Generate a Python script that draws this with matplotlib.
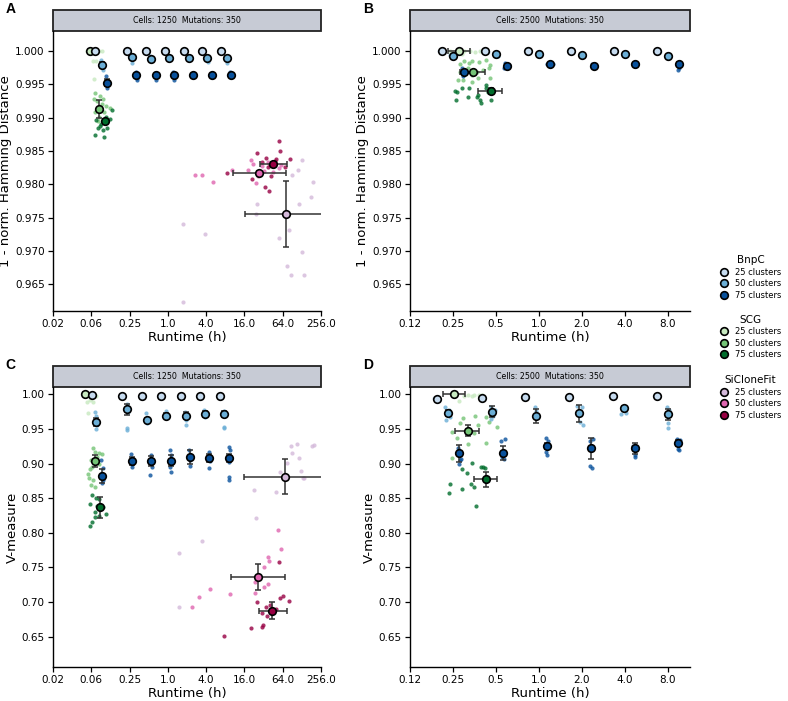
import numpy as np
import matplotlib.pyplot as plt
from matplotlib.lines import Line2D
from matplotlib.patches import Rectangle
from matplotlib.ticker import NullLocator

CLUSTERS = [25, 50, 75]
BNPC_COLORS = ['#c6dbef', '#6baed6', '#08519c']
SCG_COLORS = ['#c7e9c0', '#74c476', '#006d2c']
SCF_COLORS = ['#d4b9da', '#df65b0', '#980043']

WIDE_TICKS = [0.015625, 0.0625, 0.25, 1.0, 4.0, 16.0, 64.0, 256.0]
NARROW_TICKS = [0.125, 0.25, 0.5, 1.0, 2.0, 4.0, 8.0]
HAM_TICKS = [0.965, 0.970, 0.975, 0.980, 0.985, 0.990, 0.995, 1.000]
VM_TICKS = [0.65, 0.70, 0.75, 0.80, 0.85, 0.90, 0.95, 1.00]

# ---------------- panel A: 1250 cells, hamming ----------------
A_BNPC_RT = [
    [0.07, 0.075, 0.22, 0.23, 0.45, 0.46, 0.88, 0.9, 1.75, 1.8, 3.45, 3.55, 6.9, 7.0],
    [0.088, 0.092, 0.095, 0.09, 0.265, 0.27, 0.275, 0.53, 0.545, 1.05, 1.07, 2.1, 2.14, 4.15, 4.25, 8.3, 8.5],
    [0.105, 0.11, 0.112, 0.108, 0.31, 0.325, 0.33, 0.63, 0.645, 0.65, 1.22, 1.26, 1.27, 2.45, 2.55, 4.8, 5.0, 9.6, 9.9, 10.0],
]
A_BNPC_SC = [
    [1.0, 0.9999, 1.0, 0.9999, 1.0, 0.9999, 1.0, 0.9999, 1.0, 0.9999, 1.0, 0.9999, 1.0, 0.9999],
    [0.9987, 0.9979, 0.9972, 0.9983, 0.9991, 0.999, 0.9982, 0.9992, 0.9988, 0.9992, 0.9989, 0.9991, 0.9988, 0.9992, 0.9983, 0.9991, 0.9982],
    [0.9962, 0.995, 0.9944, 0.9956, 0.9968, 0.996, 0.9957, 0.9967, 0.9961, 0.9956, 0.9969, 0.9962, 0.9956, 0.9966, 0.9962, 0.9966, 0.9962, 0.9969, 0.9963, 0.9966],
]
A_BNPC_MRT = [
    [0.0725, 0.225, 0.456, 0.89, 1.77, 3.49, 6.96],
    [0.092, 0.27, 0.54, 1.06, 2.12, 4.2, 8.4],
    [0.109, 0.32, 0.64, 1.25, 2.5, 4.9, 9.8],
]
A_BNPC_MSC = [
    [1.0, 1.0, 1.0, 1.0, 1.0, 1.0, 1.0],
    [0.9979, 0.99915, 0.99875, 0.999, 0.9989, 0.999, 0.999],
    [0.99525, 0.9964, 0.9964, 0.9964, 0.9964, 0.9964, 0.9964],
]
A_BNPC_YERR = [
    [0, 0, 0, 0, 0, 0, 0],
    [0.0004, 0.0001, 0.0001, 0.0001, 0.0001, 0.0001, 0.0001],
    [0.0005, 0.0002, 0.0002, 0.0002, 0.0001, 0.0001, 0.0002],
]

A_SCG_RT = [
    [0.0534, 0.0617, 0.0686, 0.082, 0.0913, 0.066, 0.0738, 0.0686],
    [0.071, 0.085, 0.0945, 0.0764, 0.091, 0.105, 0.121, 0.071, 0.082, 0.098, 0.079, 0.0686],
    [0.0738, 0.088, 0.105, 0.121, 0.079, 0.0945, 0.071, 0.098, 0.109, 0.085, 0.13],
]
A_SCG_SC = [
    [1.0, 1.0, 1.0, 1.0, 1.0, 0.99843, 0.99843, 0.9958],
    [0.9937, 0.99325, 0.9928, 0.9925, 0.99205, 0.99175, 0.99145, 0.99085, 0.9901, 0.99085, 0.9895, 0.9928],
    [0.98965, 0.98905, 0.9901, 0.9898, 0.98845, 0.98815, 0.9874, 0.9871, 0.98845, 0.98875, 0.99115],
]
A_SCG_MRT = [0.059, 0.084, 0.103]
A_SCG_MSC = [1.0, 0.9913, 0.9895]
A_SCG_XLO = [0.056, 0.08, 0.098]
A_SCG_XHI = [0.062, 0.088, 0.108]
A_SCG_YERR = [0.0, 0.0013, 0.0003]

A_SCF_RT = [
    [1.71, 3.8, 1.75, 25.6, 24, 55, 116, 180, 193, 128, 90, 75, 87, 128, 140, 110, 79],
    [2.65, 3.49, 5.1, 10.2, 24, 18, 30, 38, 45, 20, 60, 55, 33, 26, 22],
    [56.6, 57, 25.6, 34.5, 50, 84, 8.4, 21.4, 33.6, 39, 42, 37, 70, 30, 48, 40],
]
A_SCF_SC = [
    [0.97405, 0.9725, 0.9624, 0.97705, 0.97555, 0.9719, 0.97705, 0.97805, 0.9804, 0.98365, 0.9814, 0.96775, 0.9664, 0.9698, 0.96635, 0.98215, 0.97315],
    [0.9814, 0.9814, 0.9804, 0.98215, 0.98025, 0.9822, 0.9827, 0.9833, 0.9818, 0.9836, 0.9829, 0.9825, 0.982, 0.9812, 0.9831],
    [0.9865, 0.98495, 0.98475, 0.9839, 0.9838, 0.98375, 0.98175, 0.98075, 0.97965, 0.979, 0.9813, 0.98265, 0.98265, 0.9834, 0.9835, 0.9829],
]
A_SCF_MRT = [72.8, 27.4, 45.2]
A_SCF_MSC = [0.97555, 0.98175, 0.9831]
A_SCF_XLO = [16.4, 10.7, 27.7]
A_SCF_XHI = [323.0, 72.0, 74.5]
A_SCF_YERR = [0.005, 0.0002, 0.0002]

# ---------------- panel B: 2500 cells, hamming ----------------
B_BNPC_RT = [
    [0.2, 0.22, 0.4, 0.44, 0.82, 0.87, 1.65, 1.75, 3.3, 3.5, 6.6, 7.1],
    [0.24, 0.255, 0.26, 0.49, 0.52, 0.98, 1.02, 1.98, 2.08, 3.9, 4.1, 7.9, 8.3],
    [0.29, 0.3, 0.31, 0.295, 0.58, 0.6, 0.62, 0.57, 1.15, 1.2, 1.25, 2.35, 2.45, 2.5, 4.6, 4.8, 4.9, 9.4, 9.6, 9.5],
]
B_BNPC_SC = [
    [1.0, 0.9999, 1.0, 0.9999, 1.0, 0.9999, 1.0, 0.9999, 1.0, 0.9999, 1.0, 0.9999],
    [0.9994, 0.9991, 0.9995, 0.9995, 0.9993, 0.9995, 0.9994, 0.9994, 0.9993, 0.9995, 0.9994, 0.9993, 0.9992],
    [0.9974, 0.9966, 0.997, 0.9962, 0.9982, 0.9976, 0.9979, 0.9975, 0.9981, 0.9979, 0.998, 0.9981, 0.9976, 0.9977, 0.998, 0.9979, 0.9981, 0.9982, 0.9974, 0.9972],
]
B_BNPC_MRT = [
    [0.21, 0.42, 0.84, 1.69, 3.39, 6.8],
    [0.25, 0.5, 1.0, 2.02, 4.0, 8.1],
    [0.3, 0.6, 1.19, 2.43, 4.75, 9.6],
]
B_BNPC_MSC = [
    [1.0, 1.0, 1.0, 1.0, 1.0, 1.0],
    [0.9993, 0.9995, 0.9995, 0.9994, 0.9995, 0.9993],
    [0.9968, 0.9978, 0.998, 0.9978, 0.998, 0.9981],
]
B_BNPC_YERR = [
    [0, 0, 0, 0, 0, 0],
    [0.0001, 0.0001, 0.0001, 0.0001, 0.0001, 0.0001],
    [0.0003, 0.0002, 0.0001, 0.0002, 0.0001, 0.0002],
]

B_SCG_RT = [
    [0.24, 0.27, 0.3, 0.33, 0.36, 0.39, 0.41, 0.29],
    [0.298, 0.324, 0.342, 0.381, 0.43, 0.454, 0.28, 0.32, 0.371, 0.408, 0.447, 0.27, 0.295, 0.342, 0.377, 0.454, 0.28, 0.342],
    [0.257, 0.268, 0.262, 0.29, 0.324, 0.367, 0.387, 0.391, 0.43, 0.44, 0.466, 0.32, 0.375, 0.424],
]
B_SCG_SC = [
    [1.0, 1.0, 0.99995, 1.0, 0.9999, 1.0, 0.9999, 0.9995],
    [0.9985, 0.99815, 0.9985, 0.9983, 0.9987, 0.9979, 0.998, 0.9974, 0.9969, 0.9971, 0.9974, 0.9957, 0.9956, 0.9954, 0.9959, 0.9959, 0.9969, 0.9964],
    [0.994, 0.9938, 0.9926, 0.9945, 0.9944, 0.9931, 0.9926, 0.9922, 0.9945, 0.9938, 0.9926, 0.9931, 0.9934, 0.9949],
]
B_SCG_MRT = [0.275, 0.347, 0.46]
B_SCG_MSC = [1.0, 0.9969, 0.994]
B_SCG_XLO = [0.232, 0.28, 0.377]
B_SCG_XHI = [0.33, 0.42, 0.554]
B_SCG_YERR = [0.0, 0.0003, 0.0004]

# ---------------- panel C: 1250 cells, v-measure ----------------
C_BNPC_RT = [
    [0.062, 0.067, 0.19, 0.197, 0.39, 0.4, 0.78, 0.795, 1.57, 1.61, 3.13, 3.2, 6.4, 6.6],
    [0.072, 0.075, 0.077, 0.073, 0.074, 0.225, 0.235, 0.23, 0.228, 0.24, 0.46, 0.48, 0.47, 0.93, 0.95, 0.94,
     1.88, 1.92, 1.9, 3.7, 3.85, 3.8, 7.5, 7.7, 7.6, 7.55],
    [0.088, 0.094, 0.09, 0.095, 0.092, 0.265, 0.275, 0.27, 0.54, 0.56, 0.53, 1.08, 1.13, 1.1, 1.12,
     2.18, 2.25, 2.2, 4.4, 4.55, 4.5, 9.1, 9.5, 9.3, 9.2, 9.0],
]
C_BNPC_SC = [
    [0.999, 0.998, 0.997, 0.996, 0.997, 0.996, 0.997, 0.996, 0.997, 0.996, 0.997, 0.996, 0.997, 0.996],
    [0.975, 0.968, 0.955, 0.95, 0.962, 0.986, 0.981, 0.9485, 0.951, 0.975, 0.9726, 0.9656, 0.9585, 0.976, 0.972, 0.966,
     0.9745, 0.963, 0.956, 0.978, 0.9745, 0.967, 0.9765, 0.974, 0.953, 0.951],
    [0.905, 0.893, 0.885, 0.876, 0.872, 0.914, 0.9, 0.895, 0.912, 0.895, 0.884, 0.92, 0.913, 0.895, 0.888,
     0.919, 0.905, 0.896, 0.916, 0.903, 0.894, 0.924, 0.92, 0.902, 0.88, 0.876],
]
C_BNPC_MRT = [
    [0.0646, 0.193, 0.395, 0.787, 1.59, 3.17, 6.49],
    [0.0744, 0.231, 0.472, 0.941, 1.9, 3.79, 7.59],
    [0.0913, 0.27, 0.55, 1.11, 2.22, 4.48, 9.26],
]
C_BNPC_MSC = [
    [0.999, 0.997, 0.997, 0.997, 0.997, 0.997, 0.997],
    [0.9604, 0.9783, 0.9629, 0.9691, 0.9687, 0.9716, 0.9716],
    [0.8825, 0.9041, 0.9041, 0.9041, 0.909, 0.9076, 0.9076],
]
C_BNPC_YERR = [
    [0, 0, 0, 0, 0, 0, 0],
    [0.006, 0.008, 0.003, 0.004, 0.005, 0.004, 0.004],
    [0.01, 0.006, 0.007, 0.008, 0.01, 0.006, 0.006],
]

C_SCG_RT = [
    [0.0575, 0.0703, 0.059, 0.054, 0.0557, 0.066, 0.062, 0.075],
    [0.066, 0.0703, 0.084, 0.092, 0.0764, 0.0624, 0.084, 0.0646, 0.06, 0.0575, 0.066, 0.061, 0.0718, 0.0553],
    [0.0646, 0.073, 0.084, 0.06, 0.0764, 0.0703, 0.0966, 0.1065, 0.084, 0.0718, 0.0646, 0.06],
]
C_SCG_SC = [
    [1.0, 0.999, 0.9918, 0.9895, 0.9726, 0.9893, 0.998, 0.9975],
    [0.922, 0.9171, 0.9157, 0.9138, 0.909, 0.9051, 0.8994, 0.8946, 0.8917, 0.8787, 0.8763, 0.869, 0.8666, 0.885],
    [0.8546, 0.8498, 0.8488, 0.8416, 0.8387, 0.8305, 0.8377, 0.8272, 0.8243, 0.8224, 0.8161, 0.8099],
]
C_SCG_MRT = [0.049, 0.0703, 0.087]
C_SCG_MSC = [1.0, 0.9037, 0.8368]
C_SCG_XLO = [0.047, 0.067, 0.083]
C_SCG_XHI = [0.051, 0.074, 0.091]
C_SCG_YERR = [0.0, 0.009, 0.015]

C_SCF_RT = [
    [87, 107, 183, 200, 89, 116, 76, 124, 134, 140, 22.7, 51, 24.6, 58.6, 1.52, 3.49, 1.52],
    [53, 61, 37, 39.6, 32, 23.5, 37, 32, 23.5, 9.5, 4.65, 3.06, 2.36],
    [55, 65, 58.6, 79, 41, 34.5, 30.5, 36.5, 31.5, 30, 20, 7.75, 24.9, 50],
]
C_SCF_SC = [
    [0.9254, 0.9283, 0.9258, 0.9268, 0.9148, 0.9076, 0.9004, 0.8897, 0.8787, 0.8787, 0.8618, 0.8594, 0.821, 0.8883, 0.7704, 0.7886, 0.6933],
    [0.8041, 0.7766, 0.7647, 0.7594, 0.7502, 0.7295, 0.7261, 0.7222, 0.7127, 0.7117, 0.7185, 0.7078, 0.6933],
    [0.7583, 0.7088, 0.7054, 0.7016, 0.6953, 0.6933, 0.6838, 0.6799, 0.6669, 0.6645, 0.6621, 0.651, 0.7006, 0.69],
]
C_SCF_MRT = [70.0, 26.1, 44.0]
C_SCF_MSC = [0.881, 0.7367, 0.6876]
C_SCF_XLO = [15.5, 9.85, 27.0]
C_SCF_XHI = [316.0, 70.0, 74.5]
C_SCF_YERR = [0.0253, 0.019, 0.012]

# ---------------- panel D: 2500 cells, v-measure ----------------
D_BNPC_RT = [
    [0.185, 0.2, 0.39, 0.405, 0.79, 0.81, 1.6, 1.64, 3.25, 3.35, 6.6, 6.9],
    [0.22, 0.235, 0.24, 0.225, 0.46, 0.49, 0.48, 0.465, 0.94, 0.95, 1.85, 2.0, 1.95, 2.05, 3.8, 4.1, 3.9,
     7.9, 8.2, 8.0, 8.1],
    [0.27, 0.285, 0.275, 0.28, 0.54, 0.58, 0.57, 0.555, 1.13, 1.17, 1.12, 1.15, 2.3, 2.4, 2.3, 2.35,
     4.55, 4.85, 4.7, 4.75, 9.3, 9.8, 9.5, 9.6],
]
D_BNPC_SC = [
    [0.994, 0.992, 0.996, 0.994, 0.997, 0.996, 0.997, 0.996, 0.998, 0.997, 0.998, 0.997],
    [0.982, 0.977, 0.967, 0.963, 0.982, 0.978, 0.969, 0.965, 0.981, 0.976, 0.983, 0.982, 0.96, 0.956, 0.971, 0.973, 0.982,
     0.982, 0.977, 0.958, 0.951],
    [0.922, 0.907, 0.9, 0.905, 0.933, 0.935, 0.906, 0.91, 0.937, 0.933, 0.916, 0.912, 0.932, 0.936, 0.897, 0.893,
     0.925, 0.923, 0.913, 0.909, 0.936, 0.934, 0.921, 0.92],
]
D_BNPC_MRT = [
    [0.192, 0.397, 0.798, 1.62, 3.3, 6.74],
    [0.23, 0.472, 0.959, 1.93, 3.94, 8.05],
    [0.275, 0.56, 1.145, 2.33, 4.7, 9.55],
]
D_BNPC_MSC = [
    [0.9932, 0.9951, 0.9966, 0.9966, 0.9975, 0.998],
    [0.9726, 0.9749, 0.9687, 0.9726, 0.9798, 0.9711],
    [0.9148, 0.9148, 0.9253, 0.922, 0.922, 0.9293],
]
D_BNPC_YERR = [
    [0, 0, 0, 0, 0, 0],
    [0.004, 0.008, 0.01, 0.012, 0.003, 0.008],
    [0.012, 0.01, 0.004, 0.015, 0.008, 0.004],
]

D_SCG_RT = [
    [0.32, 0.35, 0.38, 0.4, 0.34, 0.275, 0.3],
    [0.294, 0.355, 0.424, 0.28, 0.377, 0.512, 0.247, 0.446, 0.268, 0.318, 0.424, 0.351, 0.247, 0.459],
    [0.338, 0.406, 0.288, 0.315, 0.419, 0.333, 0.351, 0.238, 0.291, 0.234, 0.365, 0.391],
]
D_SCG_SC = [
    [0.9995, 0.999, 0.9985, 0.999, 0.997, 0.99, 0.998],
    [0.9653, 0.9687, 0.9668, 0.958, 0.9557, 0.9532, 0.946, 0.9604, 0.9365, 0.9283, 0.9302, 0.9437, 0.9076, 0.9701],
    [0.9013, 0.8946, 0.8917, 0.8868, 0.8932, 0.8705, 0.8657, 0.8705, 0.8628, 0.857, 0.8387, 0.8946],
]
D_SCG_MRT = [0.254, 0.318, 0.424]
D_SCG_MSC = [1.0, 0.9474, 0.8773]
D_SCG_XLO = [0.213, 0.26, 0.351]
D_SCG_XHI = [0.303, 0.384, 0.512]
D_SCG_YERR = [0.0, 0.008, 0.011]


def draw_points(ax, rt, sc, colors):
    for r, s, c in zip(rt, sc, colors):
        ax.scatter(r, s, s=9, color=c, alpha=0.8, linewidths=0, zorder=2)


def draw_means(ax, mrt, msc, yerr, colors, xlo=None, xhi=None):
    for i, c in enumerate(colors):
        x = np.atleast_1d(mrt[i])
        y = np.atleast_1d(msc[i])
        ye = np.atleast_1d(yerr[i])
        if xlo is not None:
            ax.errorbar(x, y, xerr=[[x[0] - xlo[i]], [xhi[i] - x[0]]], fmt='none',
                        ecolor='#333333', elinewidth=1.1, capsize=2.2, capthick=1.1, zorder=3)
        keep = ye > 0
        if keep.any():
            ax.errorbar(x[keep], y[keep], yerr=ye[keep], fmt='none',
                        ecolor='#333333', elinewidth=1.1, capsize=2.2, capthick=1.1, zorder=3)
        ax.scatter(x, y, s=30, color=c, edgecolors='black', linewidths=1.2, zorder=4)


def style_axes(ax, xticks, xlim, yticks, ylim, yfmt, ylabel, title, letter):
    ax.set_xscale('log', base=2)
    ax.set_xlim(*xlim)
    ax.set_xticks(xticks)
    ax.set_xticklabels([str(round(t, 2)) for t in xticks])
    ax.xaxis.set_minor_locator(NullLocator())
    ax.set_ylim(*ylim)
    ax.set_yticks(yticks)
    ax.set_yticklabels([yfmt % t for t in yticks])
    ax.tick_params(labelsize=7.5, length=3.5, width=0.9, pad=2.5)
    for side in ['top', 'right']:
        ax.spines[side].set_visible(False)
    for side in ['left', 'bottom']:
        ax.spines[side].set_linewidth(1.0)
    ax.set_xlabel('Runtime (h)', fontsize=9.5, labelpad=1)
    ax.set_ylabel(ylabel, fontsize=9.5, labelpad=2)
    ax.add_patch(Rectangle((0, 1), 1, 0.075, transform=ax.transAxes, clip_on=False,
                           facecolor='#c7cbd5', edgecolor='#222222', linewidth=1.3))
    ax.text(0.5, 1.0375, title, transform=ax.transAxes, ha='center', va='center', fontsize=5.7)
    bb = ax.get_position()
    ax.figure.text(bb.x0 - 0.06, bb.y1 + 0.032, letter, fontsize=10, fontweight='bold',
                   ha='left', va='center', family='Liberation Sans')


fig = plt.figure(figsize=(7.88, 7.01), dpi=100)
ax_a = fig.add_axes([0.06726, 0.55635, 0.34010, 0.39943])
ax_b = fig.add_axes([0.52030, 0.55635, 0.35533, 0.39943])
ax_c = fig.add_axes([0.06726, 0.04850, 0.34010, 0.39943])
ax_d = fig.add_axes([0.52030, 0.04850, 0.35533, 0.39943])

# points
draw_points(ax_a, A_SCF_RT, A_SCF_SC, SCF_COLORS)
draw_points(ax_a, A_SCG_RT, A_SCG_SC, SCG_COLORS)
draw_points(ax_a, A_BNPC_RT, A_BNPC_SC, BNPC_COLORS)
draw_points(ax_b, B_SCG_RT, B_SCG_SC, SCG_COLORS)
draw_points(ax_b, B_BNPC_RT, B_BNPC_SC, BNPC_COLORS)
draw_points(ax_c, C_SCF_RT, C_SCF_SC, SCF_COLORS)
draw_points(ax_c, C_SCG_RT, C_SCG_SC, SCG_COLORS)
draw_points(ax_c, C_BNPC_RT, C_BNPC_SC, BNPC_COLORS)
draw_points(ax_d, D_SCG_RT, D_SCG_SC, SCG_COLORS)
draw_points(ax_d, D_BNPC_RT, D_BNPC_SC, BNPC_COLORS)

# means with error bars
draw_means(ax_a, A_SCF_MRT, A_SCF_MSC, A_SCF_YERR, SCF_COLORS, A_SCF_XLO, A_SCF_XHI)
draw_means(ax_a, A_SCG_MRT, A_SCG_MSC, A_SCG_YERR, SCG_COLORS, A_SCG_XLO, A_SCG_XHI)
draw_means(ax_a, A_BNPC_MRT, A_BNPC_MSC, A_BNPC_YERR, BNPC_COLORS)
draw_means(ax_b, B_SCG_MRT, B_SCG_MSC, B_SCG_YERR, SCG_COLORS, B_SCG_XLO, B_SCG_XHI)
draw_means(ax_b, B_BNPC_MRT, B_BNPC_MSC, B_BNPC_YERR, BNPC_COLORS)
draw_means(ax_c, C_SCF_MRT, C_SCF_MSC, C_SCF_YERR, SCF_COLORS, C_SCF_XLO, C_SCF_XHI)
draw_means(ax_c, C_SCG_MRT, C_SCG_MSC, C_SCG_YERR, SCG_COLORS, C_SCG_XLO, C_SCG_XHI)
draw_means(ax_c, C_BNPC_MRT, C_BNPC_MSC, C_BNPC_YERR, BNPC_COLORS)
draw_means(ax_d, D_SCG_MRT, D_SCG_MSC, D_SCG_YERR, SCG_COLORS, D_SCG_XLO, D_SCG_XHI)
draw_means(ax_d, D_BNPC_MRT, D_BNPC_MSC, D_BNPC_YERR, BNPC_COLORS)

ham = '1 - norm. Hamming Distance'
style_axes(ax_a, WIDE_TICKS, (0.015625, 256), HAM_TICKS, (0.961, 1.003), '%.3f', ham,
           'Cells: 1250  Mutations: 350', 'A')
style_axes(ax_b, NARROW_TICKS, (0.125, 11.5), HAM_TICKS, (0.961, 1.003), '%.3f', ham,
           'Cells: 2500  Mutations: 350', 'B')
style_axes(ax_c, WIDE_TICKS, (0.015625, 256), VM_TICKS, (0.6063, 1.0105), '%.2f', 'V-measure',
           'Cells: 1250  Mutations: 350', 'C')
style_axes(ax_d, NARROW_TICKS, (0.125, 11.5), VM_TICKS, (0.6063, 1.0105), '%.2f', 'V-measure',
           'Cells: 2500  Mutations: 350', 'D')

# legends, one per method
legend_tops = [0.636, 0.551, 0.465]
for name, colors, top in zip(['BnpC', 'SCG', 'SiCloneFit'], [BNPC_COLORS, SCG_COLORS, SCF_COLORS], legend_tops):
    handles = [Line2D([], [], linestyle='none', marker='o', markersize=5.5, markerfacecolor=c,
                      markeredgecolor='black', markeredgewidth=1.2) for c in colors]
    labels = ['%d clusters' % k for k in CLUSTERS]
    leg = fig.legend(handles, labels, title=name, loc='upper left', bbox_to_anchor=(0.913, top),
                     frameon=False, fontsize=6, title_fontsize=7.5, handlelength=1.0,
                     handletextpad=0.9, labelspacing=0.3, borderpad=0, borderaxespad=0)

fig.savefig('out.png', dpi=100)
